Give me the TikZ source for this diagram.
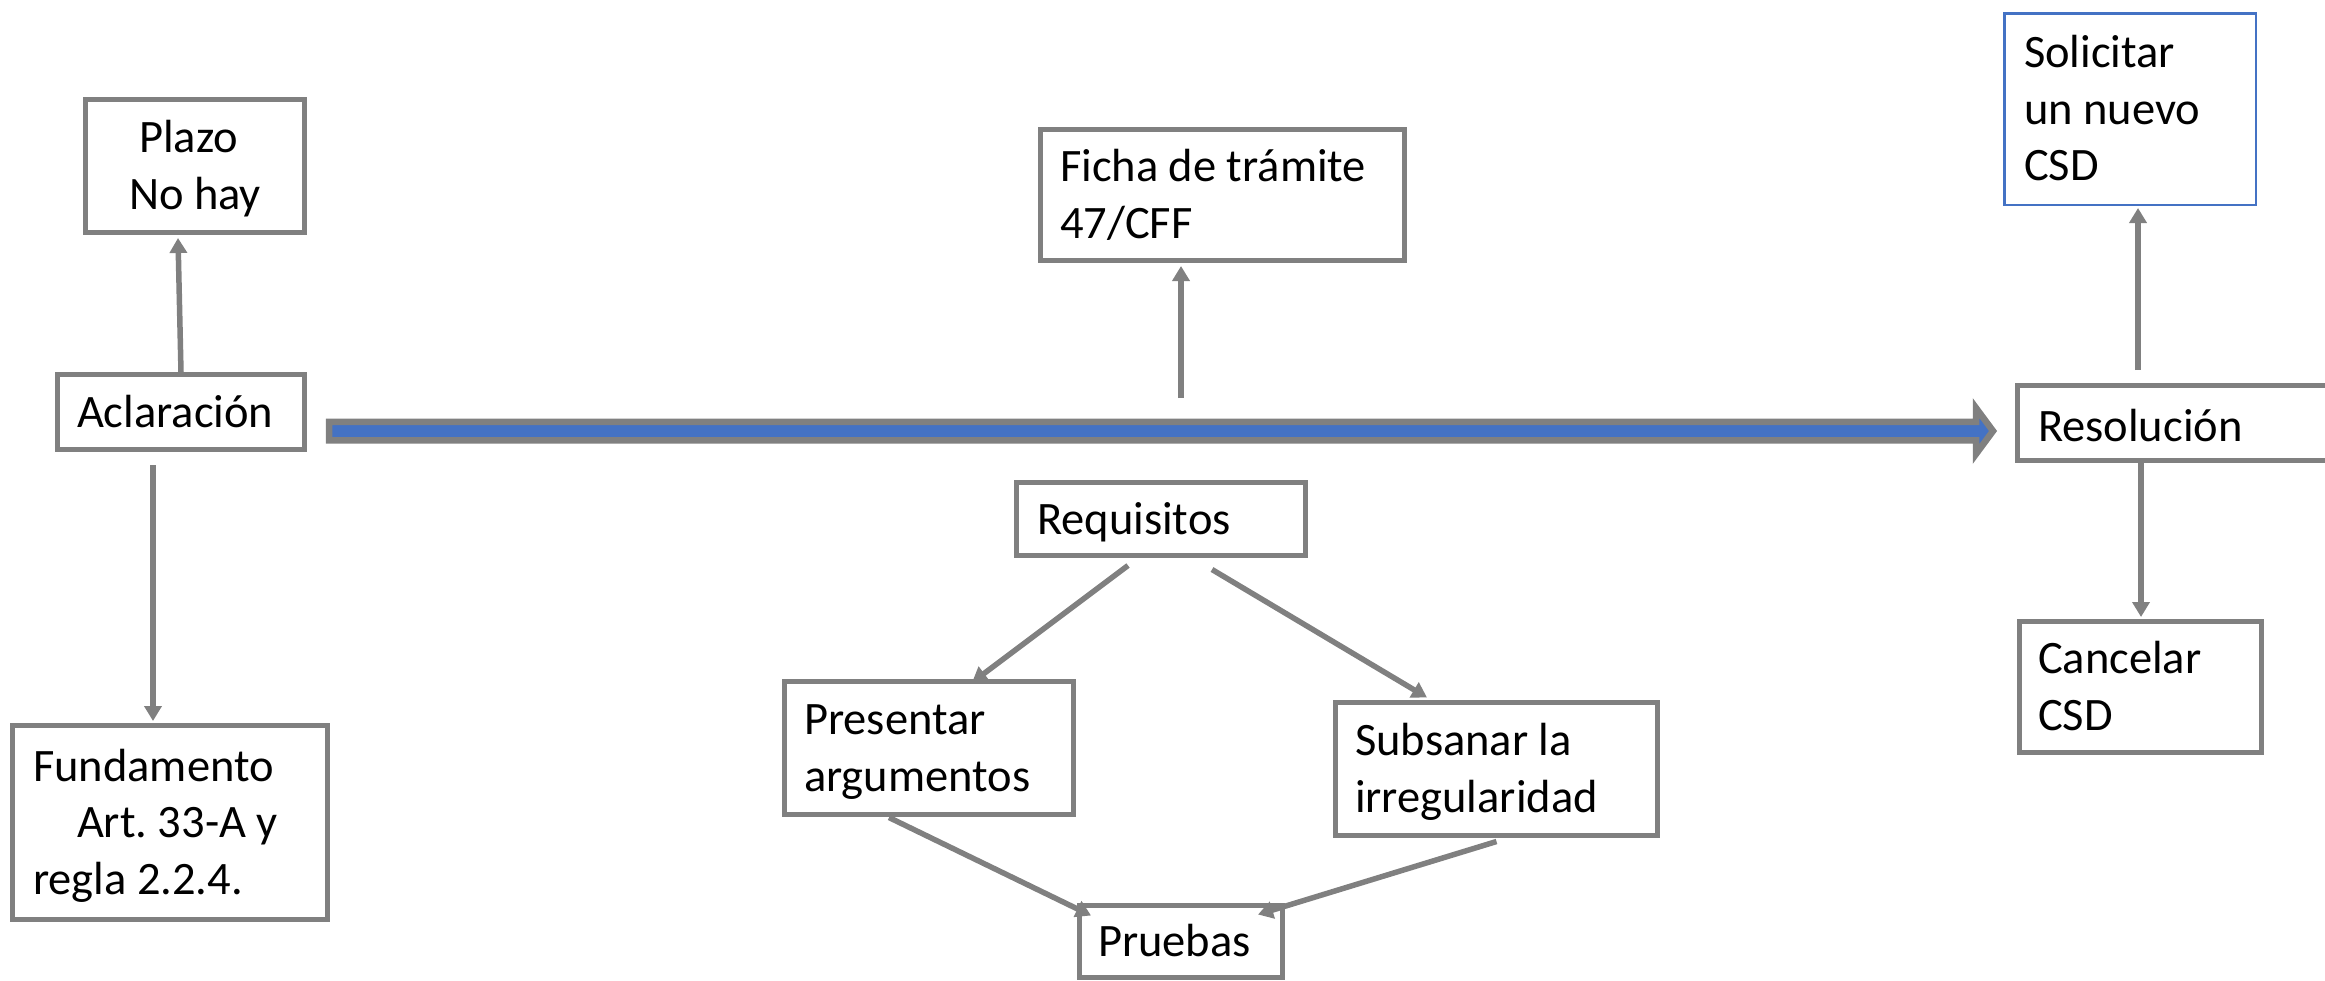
\documentclass[tikz,border=0pt]{standalone}
\usepackage{fontspec}
\setmainfont{Carlito}
\usetikzlibrary{arrows.meta,calc}
\definecolor{lgray}{HTML}{808080}
\definecolor{mblue}{HTML}{4472C4}
\newcommand\myTop[1][42pt]{\rule{0pt}{#1}}
\newcommand\myBot{\rule[-11.6pt]{0pt}{11.6pt}}
\frenchspacing
\begin{document}
\begin{tikzpicture}[x=1pt,y=-1pt,
  box/.style={draw=lgray, line width=5pt, inner ysep=0pt, align=flush left, fill=white,
    font=\fontsize{46.5pt}{56.7pt}\selectfont\frenchspacing},
  conn/.style={draw=lgray, line width=5.5pt, -{Triangle[length=15pt,width=17pt]}}]
\useasboundingbox (0,0) rectangle (2325,980);
\clip (0,0) rectangle (2325,980);

% nodes
\node[box, align=flush center, minimum width=219pt, minimum height=133pt, inner xsep=10pt, text width=199pt]
  (plazo) at (195,166) {\myTop Plazo\kern13pt\\No hay\myBot};
\node[box, minimum width=247pt, minimum height=75pt, inner xsep=19.5pt, text width=208pt]
  (acl) at (181,412) {\myTop Aclaración\myBot};
\node[box, minimum width=315pt, minimum height=194pt, inner xsep=20.5pt, text width=274pt]
  (fund) at (170,822.5) {\myTop Fundamento\\\hspace*{44pt}Art. 33-A y\\regla 2.2.4.\myBot};
\node[box, minimum width=364pt, minimum height=131pt, inner xsep=19.5pt, text width=325pt]
  (ficha) at (1222.5,195) {\myTop Ficha de trámite\\47/CFF\myBot};
\node[box, draw=mblue, line width=2.5pt, minimum width=251.5pt, minimum height=191.5pt, inner xsep=19.5pt, text width=212pt]
  (solic) at (2130,109) {\myTop Solicitar\\un nuevo\\CSD\myBot};
\node[box, minimum width=325pt, minimum height=75pt, inner xsep=20.5pt, text width=284pt]
  (res) at (2180,423) {\myTop[49pt]Resolución\myBot};
\node[box, minimum width=242pt, minimum height=131pt, inner xsep=18.5pt, text width=205pt]
  (canc) at (2140.5,687) {\myTop Cancelar\\CSD\myBot};
\node[box, minimum width=289pt, minimum height=73pt, inner xsep=20.5pt, text width=248pt]
  (req) at (1161,519) {\myTop Requisitos\myBot};
\node[box, minimum width=289pt, minimum height=133pt, inner xsep=19.5pt, text width=250pt]
  (pres) at (929,748) {\myTop Presentar\\argumentos\myBot};
\node[box, minimum width=322pt, minimum height=133pt, inner xsep=19.5pt, text width=283pt]
  (subs) at (1496.5,769) {\myTop Subsanar la\\irregularidad\myBot};
\node[box, minimum width=203pt, minimum height=72pt, inner xsep=18.5pt, text width=166pt]
  (prue) at (1181,941.5) {\myTop Pruebas\myBot};

% main arrow
\coordinate (ma) at ($(acl.east)+(19,19)$);
\coordinate (mb) at ($(res.west)+(-17,8)$);
\filldraw[draw=lgray, fill=mblue, line width=6.5pt, line join=miter]
  ($(ma)+(3,-9.25)$) -- ($(mb)+(-22,-9.25)$) -- ($(mb)+(-22,-23)$) -- ($(mb)+(-5,0)$)
  -- ($(mb)+(-22,23)$) -- ($(mb)+(-22,9.25)$) -- ($(ma)+(3,9.25)$) -- cycle;

% connectors
\draw[conn] (acl.north) -- ($(plazo.south)+(-17,3)$);
\draw[conn] ($(acl.south)+(-28,13)$) -- ($(fund.north)+(-17,-2)$);
\coordinate (fs) at (1181,398);
\draw[conn] (fs) -- ($(ficha.south)+(-41.5,3)$);
\draw[conn] ($(res.north)+(-42,-13)$) -- ($(solic.south)+(8,2)$);
\draw[conn] ($(res.south)+(-39,0)$) -- ($(canc.north)+(0.5,-2)$);
\draw[conn] ($(req.south)+(-33,7.5)$) -- ($(pres.north)+(43,3.5)$);
\draw[conn] ($(req.south)+(51,11.5)$) -- ($(subs.north)+(-69.5,-2.5)$);
\draw[conn] ($(pres.south)+(-40,0.5)$) -- ($(prue.north)+(-90,12.5)$);
\draw[conn] ($(subs.south)+(0,3.5)$) -- ($(prue.north)+(77,11.5)$);
\end{tikzpicture}
\end{document}
